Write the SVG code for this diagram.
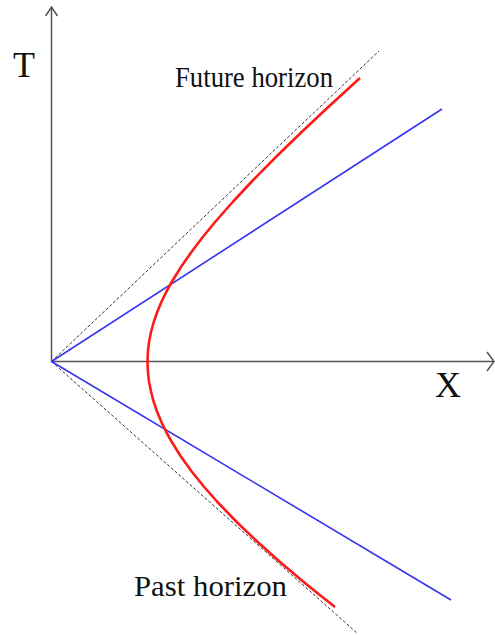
<svg xmlns="http://www.w3.org/2000/svg" width="495" height="635" viewBox="0 0 495 635">
<style>
.axis{stroke:#555;stroke-width:1.5;fill:none}
.dash{stroke:#333;stroke-width:1;stroke-dasharray:3 2;fill:none}
.blue{stroke:#3535f0;stroke-width:1.6;fill:none}
.red{stroke:#ff1a1a;stroke-width:2.6;fill:none;stroke-linejoin:round;stroke-linecap:butt}
.lbl{font-family:"Liberation Serif","Times New Roman",serif;fill:#111}
</style>
<rect width="495" height="635" fill="#fff"/>
<g id="connectors">
<line class="axis" x1="51.5" y1="361.5" x2="51.5" y2="7"/>
<polyline class="axis" points="45.5,16 51.5,7 57.5,16"/>
<line class="axis" x1="51.5" y1="361.5" x2="494" y2="361.5"/>
<polyline class="axis" points="487,352 494,361.5 487,371"/>
<line class="dash" x1="51.5" y1="361.5" x2="379" y2="51"/>
<line class="dash" x1="51.5" y1="361.5" x2="357" y2="633"/>
<line class="blue" x1="51.5" y1="361.5" x2="442" y2="109"/>
<line class="blue" x1="51.5" y1="361.5" x2="451" y2="600"/>
<polyline class="red" points="360,78 328.8,106.5 302.2,131.5 276.4,156.5 251.8,181.5 233.1,201.5 215.5,221.5 203.2,236.5 191.8,251.5 181.3,266.5 172.0,281.5 166.5,291.5 161.6,301.5 157.4,311.5 153.9,321.5 151.1,331.5 149.1,341.5 147.9,351.5 147.5,361.5 147.9,371.5 149.0,381.5 151.0,391.5 153.6,401.5 157.0,411.5 161.2,421.5 166.0,431.5 171.5,441.5 180.9,456.5 191.7,471.5 203.8,486.5 217.0,501.5 236.2,521.5 257.1,541.5 279.5,561.5 303.1,581.5 315.4,591.5 335,607"/>
</g>
<g id="label-T"><text class="lbl" x="13" y="77" font-size="36">T</text></g>
<g id="label-X"><text class="lbl" x="435" y="397" font-size="36">X</text></g>
<g id="label-future"><text class="lbl" x="175" y="87" font-size="29" textLength="158" lengthAdjust="spacingAndGlyphs">Future horizon</text></g>
<g id="label-past"><text class="lbl" x="134" y="596" font-size="29" textLength="153" lengthAdjust="spacingAndGlyphs">Past horizon</text></g>
</svg>
